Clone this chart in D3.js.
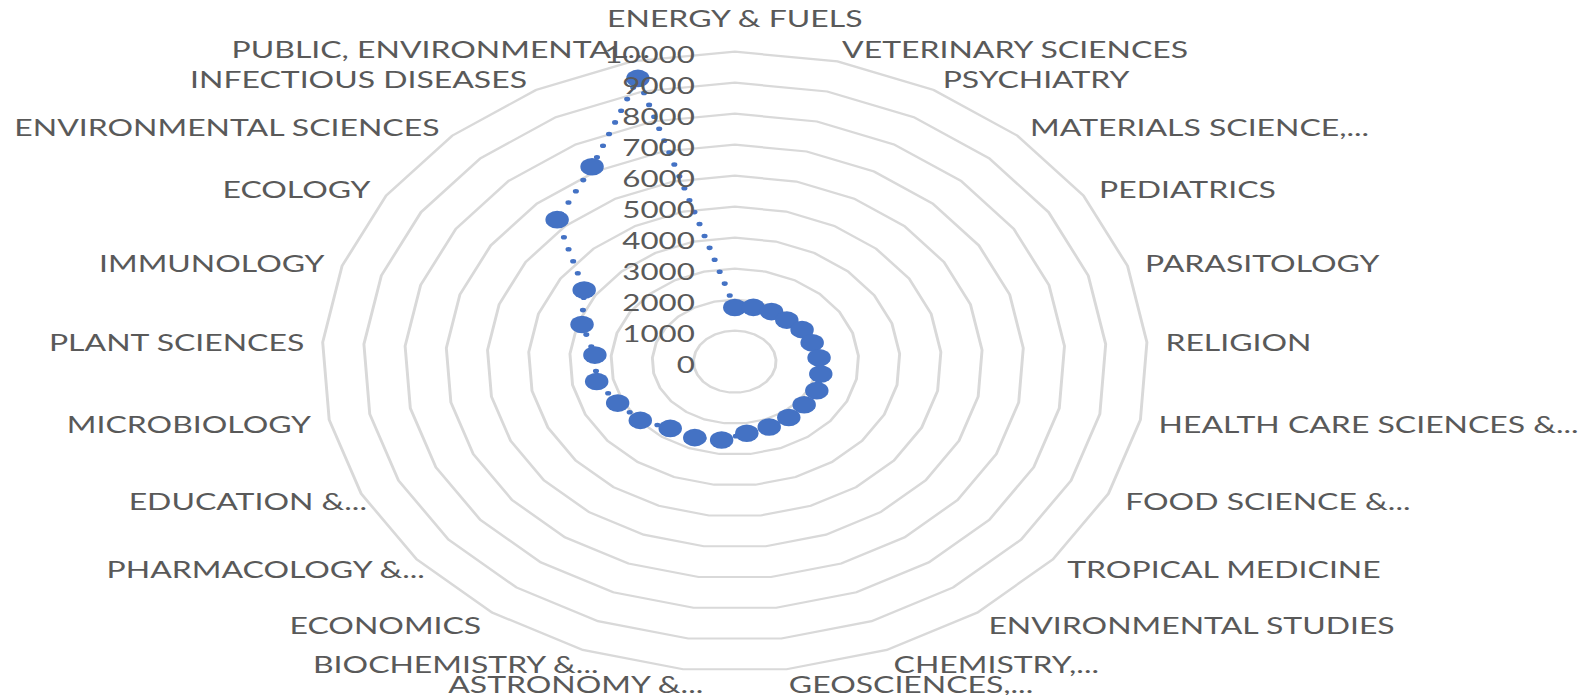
<!DOCTYPE html>
<html>
<head>
<meta charset="utf-8" />
<title>radar</title>
<script src="https://cdn.jsdelivr.net/npm/d3@7"></script>
<style>
  body { margin: 0; background: #fff; }
  svg text { font-family: Lato, "Open Sans", sans-serif; fill: #595959; }
  svg .grid { fill: none; stroke: #d9d9d9; stroke-width: 2.2px; }
  svg .series { fill: none; stroke: #4472c4; stroke-width: 4.6px; stroke-linecap: round; stroke-dasharray: 0 12.5; }
  svg .marker { fill: #4472c4; }
</style>
</head>
<body>
<div id="chart"></div>
<script>
// categories, clockwise from the top
var categories = [
  "ENERGY & FUELS", "VETERINARY SCIENCES", "PSYCHIATRY", "MATERIALS SCIENCE,...",
  "PEDIATRICS", "PARASITOLOGY", "RELIGION", "HEALTH CARE SCIENCES &...",
  "FOOD SCIENCE &...", "TROPICAL MEDICINE", "ENVIRONMENTAL STUDIES", "CHEMISTRY,...",
  "GEOSCIENCES,...", "ASTRONOMY &...", "BIOCHEMISTRY &...", "ECONOMICS",
  "PHARMACOLOGY &...", "EDUCATION &...", "MICROBIOLOGY", "PLANT SCIENCES",
  "IMMUNOLOGY", "ECOLOGY", "ENVIRONMENTAL SCIENCES", "INFECTIOUS DISEASES",
  "PUBLIC, ENVIRONMENTAL..."
];
var values = [
  1750, 1810, 1845, 1840, 1930, 1970, 2045, 2120, 2195, 2180, 2225, 2265,
  2325, 2545, 2635, 2660, 2970, 3135, 3405, 3395, 3890, 4320, 6285, 7175, 9435
];
var ticks = [0, 1000, 2000, 3000, 4000, 5000, 6000, 7000, 8000, 9000, 10000];

var width = 1582,
    height = 695,
    cx = 734.8,
    cy = 361.7,
    radius = 310,
    stretch = 1.332; // the picture is wider than tall

var svg = d3.select("#chart")
  .append("svg")
  .attr("width", width)
  .attr("height", height);

var g = svg.append("g")
  .attr("transform", "translate(" + cx + "," + cy + ") scale(" + stretch + ",1)");

var r = d3.scaleLinear().domain([0, 10000]).range([0, radius]);
var angle = d3.scaleLinear().domain([0, categories.length]).range([0, 2 * Math.PI]);

// rings
var ring = d3.lineRadial()
  .angle(function(d, i) { return angle(i); })
  .radius(function(d) { return r(d); })
  .curve(d3.curveLinearClosed);

g.selectAll("path.grid")
  .data(ticks.filter(function(t) { return t > 0; }))
  .enter()
  .append("path")
  .attr("class", "grid")
  .attr("d", function(t) { return ring(categories.map(function() { return t; })); });

// series line
var line = d3.lineRadial()
  .angle(function(d, i) { return angle(i); })
  .radius(function(d) { return r(d); })
  .curve(d3.curveLinearClosed);

g.append("path")
  .attr("class", "series")
  .attr("d", line(values));

// markers
g.selectAll("circle")
  .data(values)
  .enter()
  .append("circle")
  .attr("class", "marker")
  .attr("cx", function(d, i) { return r(d) * Math.sin(angle(i)); })
  .attr("cy", function(d, i) { return -r(d) * Math.cos(angle(i)); })
  .attr("r", 8.8);

// category labels
g.selectAll("text.cat")
  .data(categories)
  .enter()
  .append("text")
  .attr("class", "cat")
  .style("font-size", "24px")
  .attr("dy", "0.36em")
  .attr("text-anchor", function(d, i) {
    var s = Math.sin(angle(i));
    if (Math.abs(s) < 0.01) return "middle";
    return s > 0 ? "start" : "end";
  })
  .attr("x", function(d, i) {
    var s = Math.sin(angle(i));
    var x = (radius + 13.9) * s;
    if (s < -0.01 && d.slice(-3) == "...") x += 16.9;
    return x;
  })
  .attr("y", function(d, i) {
    var c = Math.cos(angle(i));
    if (Math.abs(Math.sin(angle(i))) < 0.01) return -radius - 33;
    return -(radius + 14) * c + 1.5;
  })
  .text(function(d) { return d; });

// value axis labels
g.selectAll("text.tick")
  .data(ticks)
  .enter()
  .append("text")
  .attr("class", "tick")
  .style("font-size", "23.5px")
  .attr("text-anchor", "end")
  .attr("dy", "0.36em")
  .attr("x", -30)
  .attr("y", function(d) { return -r(d) + 2.5; })
  .text(function(d) { return d; });
</script>
</body>
</html>
